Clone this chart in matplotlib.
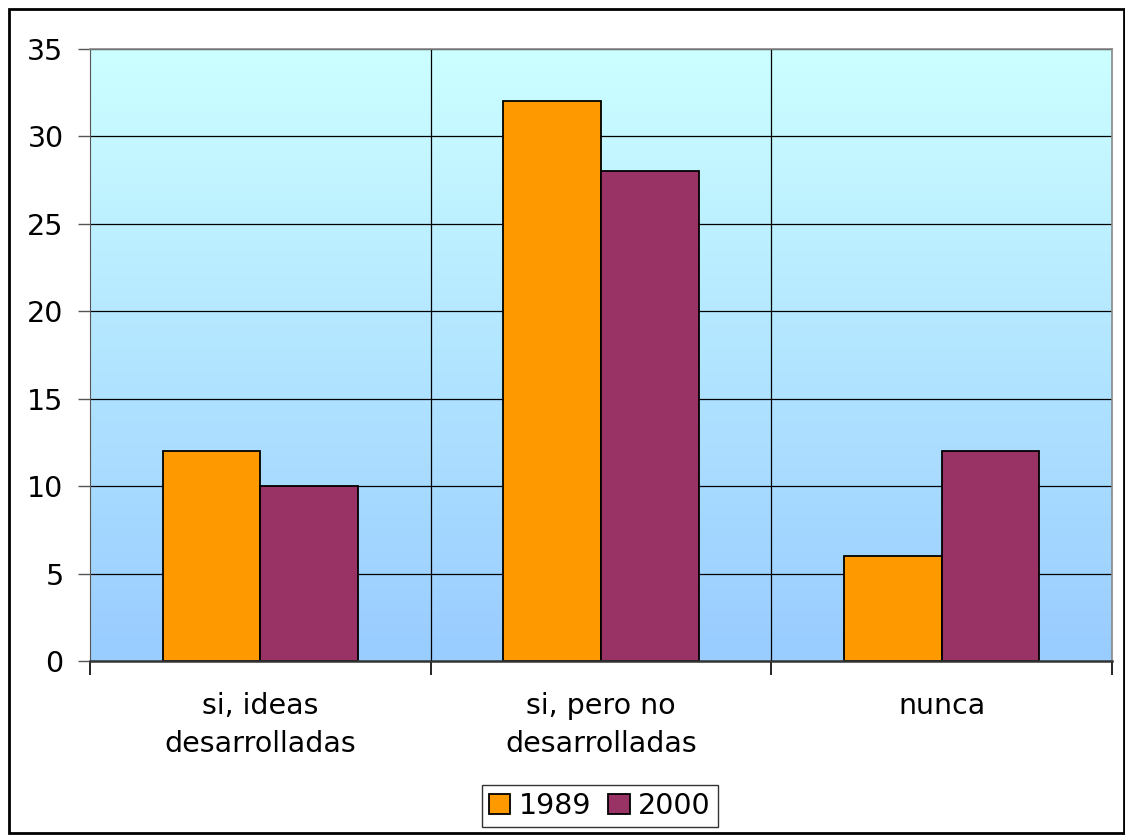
import numpy as np
import matplotlib
matplotlib.use("Agg")
import matplotlib.pyplot as plt
from matplotlib.patches import Rectangle
from matplotlib.colors import LinearSegmentedColormap

categories = ["si, ideas\ndesarrolladas", "si, pero no\ndesarrolladas", "nunca"]
series_names = ["1989", "2000"]
values_1989 = [12, 32, 6]
values_2000 = [10, 28, 12]
colors = ["#FF9900", "#993366"]
yticks = [0, 5, 10, 15, 20, 25, 30, 35]

W, H, DPI = 1125, 835, 100
fig = plt.figure(figsize=(W / DPI, H / DPI), dpi=DPI)
plt.rcParams["font.family"] = ["DejaVu Sans"]
FS = 20.5

# plot area in pixel coordinates
left, right, top, bottom = 90, 1112, 49, 661
ax = fig.add_axes([left / W, 1 - bottom / H, (right - left) / W, (bottom - top) / H])

n = len(categories)
ax.set_xlim(-0.5, n - 0.5)
ax.set_ylim(0, 35)

# vertical gradient background
cmap = LinearSegmentedColormap.from_list("bg", ["#99CCFF", "#CCFFFF"])
grad = np.linspace(0, 1, 256).reshape(-1, 1)
ax.imshow(grad, aspect="auto", cmap=cmap, origin="lower",
          extent=[-0.5, n - 0.5, 0, 35], zorder=0)

# gridlines
for y in yticks[1:]:
    ax.axhline(y, color="black", lw=0.9, zorder=1)
for xb in np.arange(0.5, n - 0.5, 1):
    ax.axvline(xb, color="black", lw=0.9, zorder=1)

x = np.arange(n)
bw = 0.287
ax.bar(x - bw / 2, values_1989, width=bw, color=colors[0], edgecolor="black",
       linewidth=1.3, label=series_names[0], zorder=2)
ax.bar(x + bw / 2, values_2000, width=bw, color=colors[1], edgecolor="black",
       linewidth=1.3, label=series_names[1], zorder=2)

ax.set_yticks(yticks)
ax.set_yticklabels([str(v) for v in yticks], fontsize=FS)
ax.tick_params(axis="y", length=9, width=1, color="#555555", pad=10)

# category tick marks at boundaries, labels at centres
ax.set_xticks(np.arange(-0.5, n, 1))
ax.set_xticklabels([])
ax.tick_params(axis="x", length=10, width=1.2, color="black")
for i, c in enumerate(categories):
    ax.text(i, -1.8, c, ha="center", va="top", fontsize=FS, linespacing=1.45,
            transform=ax.transData)

for s in ["top", "right"]:
    ax.spines[s].set_color("#888888")
    ax.spines[s].set_linewidth(1.2)
ax.spines["left"].set_color("#555555")
ax.spines["bottom"].set_color("#333333")
ax.spines["bottom"].set_linewidth(1.8)

leg = ax.legend(loc="center", bbox_to_anchor=(600 / W, 1 - 806 / H),
                bbox_transform=fig.transFigure, ncol=2, fontsize=FS,
                frameon=True, fancybox=False, edgecolor="black",
                handlelength=0.75, handleheight=0.75, handletextpad=0.3,
                columnspacing=0.6, borderpad=0.25, borderaxespad=0)
leg.get_frame().set_linewidth(1.0)

# outer figure border
fig.patches.append(Rectangle((9 / W, 2 / H), (1124 - 9) / W, (833 - 9) / H,
                             transform=fig.transFigure, fill=False,
                             edgecolor="black", linewidth=2))

fig.savefig("out.png", dpi=DPI, facecolor="white")
